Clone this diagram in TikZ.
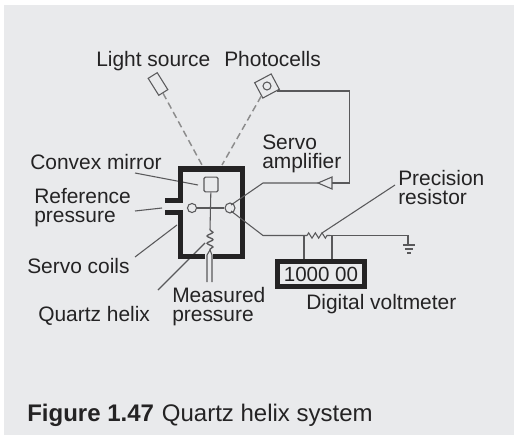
\documentclass[tikz,border=0pt]{standalone}
\usepackage{fontspec}
\setmainfont{Liberation Sans}
\usetikzlibrary{decorations.pathmorphing}
\definecolor{panel}{HTML}{E9EAEC}
\definecolor{ink}{HTML}{242324}
\definecolor{wire}{HTML}{59595B}
\tikzset{
 x=0.75pt,y=-0.75pt,
 lbl/.style={inner sep=0pt,text=ink,font=\fontsize{15.7}{13.6}\selectfont,align=left,anchor=base west},
 wirel/.style={draw=wire,line width=0.8pt},
 beam/.style={draw=gray!90,line width=1.1pt,dash pattern=on 5pt off 3pt},
 heavy/.style={draw=ink,line width=4pt},
 part/.style={draw=wire,line width=0.8pt,fill=panel,inner sep=0pt}
}
\begin{document}
\begin{tikzpicture}
\useasboundingbox (0,0) rectangle (514,435);
\fill[white] (0,0) rectangle (514,435);
\fill[panel] (4,5) rectangle (514,435);
% labels
\node[lbl] (ls) at (96,67) {Light source};
\node[lbl] (pc) at (224,67) {Photocells};
\node[lbl] (sa) at (262,168) {Servo\\amplifier};
\node[lbl] (cm) at (30,169) {Convex mirror};
\node[lbl] (rp) at (34,222) {Reference\\pressure};
\node[lbl] (sc) at (27,273) {Servo coils};
\node[lbl] (qh) at (38,321) {Quartz helix};
\node[lbl] (mp) at (172,321) {Measured\\pressure};
\node[lbl] (pr) at (398,204) {Precision\\resistor};
\node[lbl] (dv) at (306,309) {Digital voltmeter};
\node[lbl,font=\fontsize{18}{20}\selectfont] (cap) at (27,421) {\textbf{Figure 1.47}\hspace{0.33em}Quartz helix system};
% leaders
\coordinate (cmA) at (135,173); \coordinate (cmB) at (198,185);
\coordinate (rpA) at (135,211); \coordinate (rpB) at (162,208);
\coordinate (scA) at (135,257); \coordinate (scB) at (177,225);
\coordinate (qhA) at (158,290); \coordinate (qhB) at (205,243);
\coordinate (prA) at (395,185); \coordinate (prB) at (322,233);
\draw[wirel] (cmA) -- (cmB);
\draw[wirel] (rpA) -- (rpB);
\draw[wirel] (scA) -- (scB);
\draw[wirel] (qhA) -- (qhB);
\draw[wirel] (prA) -- (prB);
% source and cell
\node[part,minimum width=8pt,minimum height=15pt,rotate=32] (src) at (158,84) {};
\node[part,minimum width=14pt,minimum height=13pt,rotate=28] (cell) at (267,86) {};
\node[circle,draw=wire,line width=0.8pt,minimum size=6pt,inner sep=0pt] (celld) at (267,86) {};
% beams
\coordinate (bl) at (202,165);
\coordinate (br) at (222,165);
\draw[beam] (src) -- (bl);
\draw[beam] (cell) -- (br);
% housing
\draw[heavy,line cap=butt] (180.5,198) -- (180.5,169) -- (242.5,169) -- (242.5,256.5) -- (213,256.5);
\draw[heavy,line cap=butt] (205,256.5) -- (180.5,256.5) -- (180.5,214);
\draw[heavy] (165,200.5) -- (183,200.5);
\draw[heavy] (165,212.5) -- (183,212.5);
% inside parts
\node[part,rounded corners=1pt,minimum width=10.5pt,minimum height=11pt] (mir) at (211,184.5) {};
\node[circle,part,minimum size=6.8pt] (ref) at (192,208) {};
\node[circle,part,minimum size=7.5pt] (amp) at (230,208) {};
\coordinate (helixtop) at (210,230);
\coordinate (helixbot) at (210,250);
\draw[wirel] (mir) -- (helixtop);
\draw[wirel] (ref) -- (amp);
\draw[wirel,line width=1pt,decorate,decoration={snake,segment length=5.5pt,amplitude=2.2pt}] (helixtop) -- (helixbot);
\coordinate (tubeLt) at (207,255); \coordinate (tubeL) at (207,282);
\coordinate (tubeRt) at (212,255); \coordinate (tubeR) at (212,282);
\draw[wirel] (helixbot) -- (tubeLt) -- (tubeL);
\draw[wirel] (helixbot) -- (tubeRt) -- (tubeR);
% servo amplifier
\coordinate (triA) at (318,183);
\coordinate (triB) at (332,177);
\coordinate (triC) at (332,189);
\coordinate (triR) at (332,183);
\draw[part] (triA) -- (triB) -- (triC) -- cycle;
\coordinate (c1) at (349.5,183);
\coordinate (c2) at (349.5,91);
\coordinate (c3) at (277,91);
\draw[wirel] (triR) -- (c1) -- (c2) -- (c3);
\coordinate (k1) at (263,183);
\coordinate (k2) at (231,205);
\draw[wirel] (triA) -- (k1) -- (k2);
% lower wire, resistor, ground
\coordinate (k3) at (231,211);
\coordinate (k4) at (263,235.5);
\coordinate (r1) at (307,235.5);
\coordinate (r2) at (330,235.5);
\coordinate (g1) at (408,235.5);
\coordinate (g2) at (408,245);
\draw[wirel] (k3) -- (k4) -- (r1);
\draw[wirel,decorate,decoration={zigzag,segment length=5pt,amplitude=2pt}] (r1) -- (r2);
\draw[wirel] (r2) -- (g1) -- (g2);
\coordinate (g3a) at (403,245); \coordinate (g3b) at (415,245);
\coordinate (g4a) at (405,249); \coordinate (g4b) at (413,249);
\coordinate (g5a) at (407,253); \coordinate (g5b) at (411,253);
\draw[wirel] (g3a) -- (g3b);
\draw[wirel] (g4a) -- (g4b);
\draw[wirel] (g5a) -- (g5b);
% voltmeter
\node[draw=ink,line width=4.2pt,fill=panel,minimum width=65pt,minimum height=18.5pt,inner sep=0pt,text=ink,font=\fontsize{15.4}{17}\selectfont] (dvm) at (321,274) {1000 00};
\coordinate (d1) at (304,235.5);
\coordinate (d2) at (332,235.5);
\draw[wirel] (d1) -- (d1 |- dvm.north);
\draw[wirel] (d2) -- (d2 |- dvm.north);
\end{tikzpicture}
\end{document}
